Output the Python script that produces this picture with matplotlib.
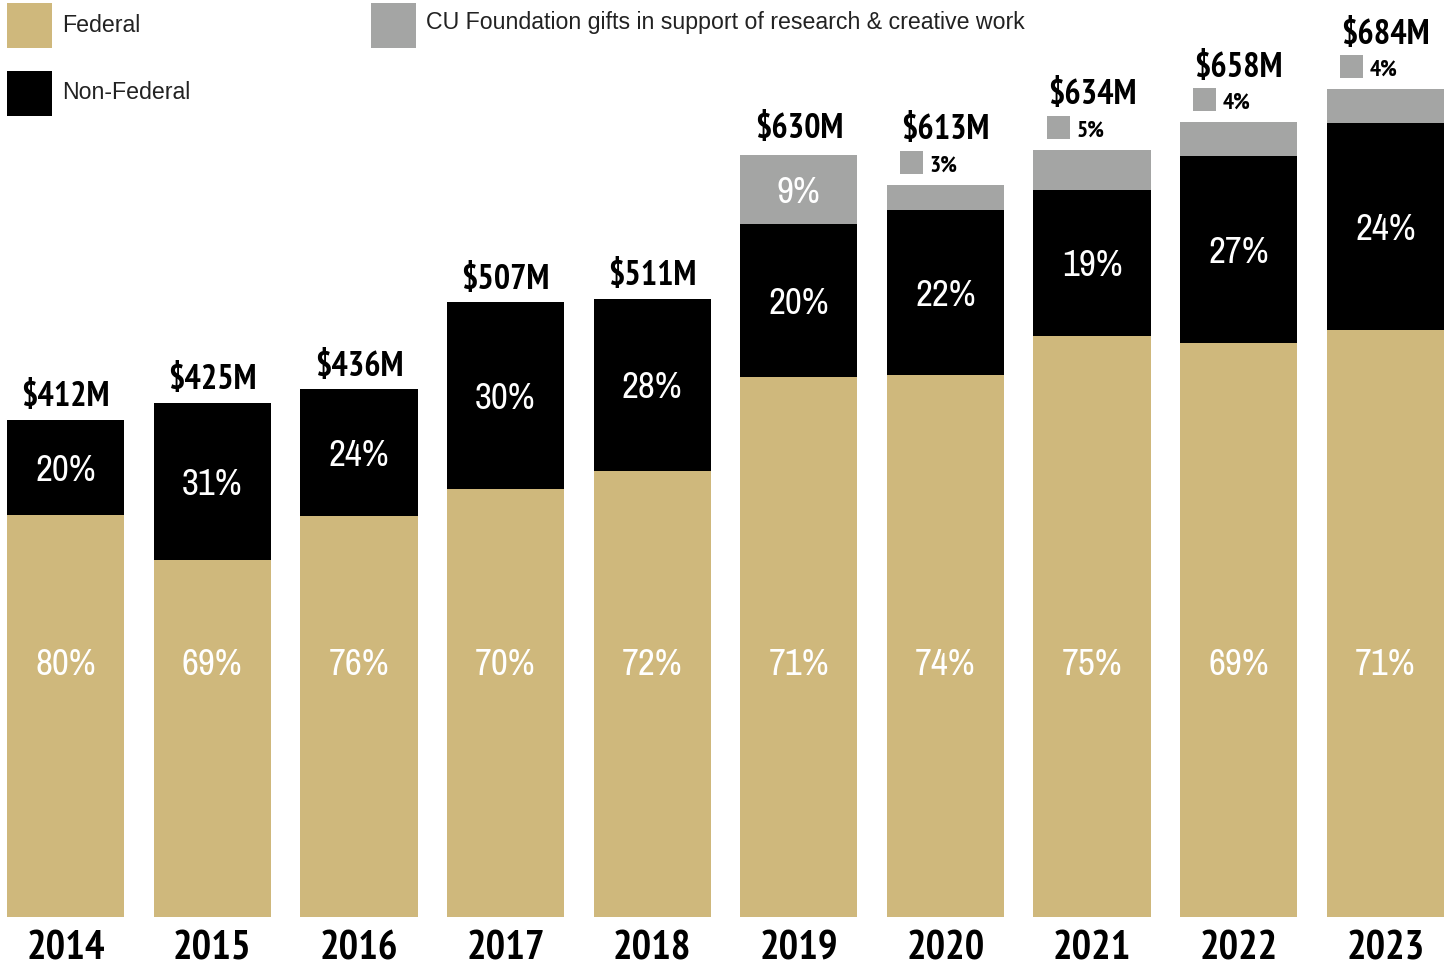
import matplotlib
matplotlib.use('Agg')
from matplotlib import pyplot as plt
from matplotlib import font_manager as fm
from matplotlib.font_manager import FontProperties
from matplotlib.patches import Rectangle
import numpy as np

years = ['2014', '2015', '2016', '2017', '2018', '2019', '2020', '2021', '2022', '2023']
total_labels = ['$412M', '$425M', '$436M', '$507M', '$511M', '$630M', '$613M', '$634M', '$658M', '$684M']
# segment sizes in $M, as drawn
federal = [332, 295, 331, 354, 369, 446, 448, 480, 474, 485]
non_federal = [79, 130, 105, 154, 142, 127, 136, 121, 155, 171]
cu_gifts = [0, 0, 0, 0, 0, 57, 21, 33, 28, 28]
federal_pct = [80, 69, 76, 70, 72, 71, 74, 75, 69, 71]
nonfed_pct = [20, 31, 24, 30, 28, 20, 22, 19, 27, 24]
cu_pct = [0, 0, 0, 0, 0, 9, 3, 5, 4, 4]

GOLD = '#CFB87C'
BLACK = '#000000'
GRAY = '#A4A5A4'
SANS = ['Liberation Sans', 'DejaVu Sans']
W, H = 1450, 966
PX = 1.21  # pixels per $M

WEIGHTS = {'ultralight': 200, 'light': 300, 'normal': 400, 'regular': 400, 'book': 400,
           'medium': 500, 'roman': 400, 'semibold': 600, 'demibold': 600, 'demi': 600,
           'bold': 700, 'heavy': 800, 'extra bold': 800, 'black': 900}


def wnum(w):
    return w if isinstance(w, int) else WEIGHTS.get(str(w).lower(), 400)


def narrow_fonts():
    fams = {}
    for f in fm.fontManager.ttflist:
        if 'Narrow' in f.name or 'Condensed' in f.name:
            fams.setdefault(f.name, set()).add(wnum(f.weight))
    names = sorted(fams, key=lambda n: ('Narrow' not in n, 'Light' in n, n))
    reg = [n for n in names if 400 in fams[n]]
    bold = [n for n in names if max(fams[n]) >= 600]
    dv_cond = any(f.name == 'DejaVu Sans' and 'condensed' in str(f.stretch)
                  for f in fm.fontManager.ttflist)
    fallback = dict(family=['DejaVu Sans'], stretch='condensed' if dv_cond else 'normal')
    r = dict(family=[reg[0], 'DejaVu Sans']) if reg else fallback
    b = dict(family=[bold[0], 'DejaVu Sans']) if bold else fallback
    return r, b


NARROW, NARROW_BOLD = narrow_fonts()

fig = plt.figure(figsize=(W / 100, H / 100), dpi=100)
renderer = fig.canvas.get_renderer()


def font_kw(weight):
    return NARROW_BOLD if weight == 'bold' else NARROW


def fit(sample, cap_px, width_px, weight='normal'):
    # size from digit height, shrunk if the font runs wider than the target
    size = cap_px / 0.73 * 0.72
    fp = FontProperties(size=size, weight=weight, **font_kw(weight))
    w, h, d = renderer.get_text_width_height_descent(sample, fp, ismath=False)
    if w > width_px * 1.05:
        size = size * width_px * 1.05 / w
    return size


sz_year = fit('2014', 30, 83, 'bold')
sz_total = fit('$412M', 25, 91, 'bold')
sz_pct = fit('20%', 27, 64)
sz_small = fit('3%', 17, 29, 'bold')

ax = fig.add_axes([7 / W, 49 / H, 1437 / W, 917 / H])
x = np.arange(len(years))
fed = np.array(federal, dtype=float)
nf = np.array(non_federal, dtype=float)
cu = np.array(cu_gifts, dtype=float)
ax.bar(x, fed, 0.8, color=GOLD, linewidth=0)
ax.bar(x, nf, 0.8, bottom=fed, color=BLACK, linewidth=0)
ax.bar(x, cu, 0.8, bottom=fed + nf, color=GRAY, linewidth=0)
ax.set_xlim(-0.4, 9.4)
ax.set_ylim(0, 917 / PX)
ax.axis('off')


def put(xd, yd, s, up_px, size, weight='normal', color='black', ha='center'):
    # up_px: where the centre of the digits sits, in pixels above (xd, yd)
    cap = size / 0.72 * 0.73
    ax.annotate(s, (xd, yd), xytext=(0, (up_px - cap / 2) * 0.72), textcoords='offset points',
                ha=ha, va='baseline', fontsize=size, fontweight=weight, color=color,
                annotation_clip=False, **font_kw(weight))


for i in range(len(years)):
    top = fed[i] + nf[i] + cu[i]
    put(x[i], 0, years[i], -28, sz_year, 'bold')
    put(x[i], 211, f'{federal_pct[i]}%', 0, sz_pct, color='white')
    put(x[i], fed[i] + nf[i] / 2, f'{nonfed_pct[i]}%', 0, sz_pct, color='white')
    if cu_pct[i] == 0:
        up = 26
    elif cu_pct[i] >= 9:
        put(x[i], fed[i] + nf[i] + cu[i] / 2, f'{cu_pct[i]}%', 0, sz_pct, color='white')
        up = 29
    else:
        ax.add_patch(Rectangle((x[i] - 0.31, top + 11 / PX), 23 / 146.6, 23 / PX,
                               color=GRAY, linewidth=0, clip_on=False))
        put(x[i] - 0.107, top, f'{cu_pct[i]}%', 22, sz_small, 'bold', ha='left')
        up = 58
    put(x[i], top, total_labels[i], up, sz_total, 'bold')

# legend
legend_items = [('Federal', GOLD, 7, 3, 32), ('Non-Federal', BLACK, 7, 71, 99),
                ('CU Foundation gifts in support of research & creative work', GRAY, 371, 3, 29)]
for label, color, lx, ly, base in legend_items:
    fig.add_artist(Rectangle((lx / W, 1 - (ly + 45) / H), 45 / W, 45 / H, color=color,
                             linewidth=0, transform=fig.transFigure))
    fig.text((lx + 55) / W, 1 - base / H, label, ha='left', va='baseline',
             family=SANS, fontsize=16.7, color='#222222')

fig.savefig('out.png', dpi=100)
